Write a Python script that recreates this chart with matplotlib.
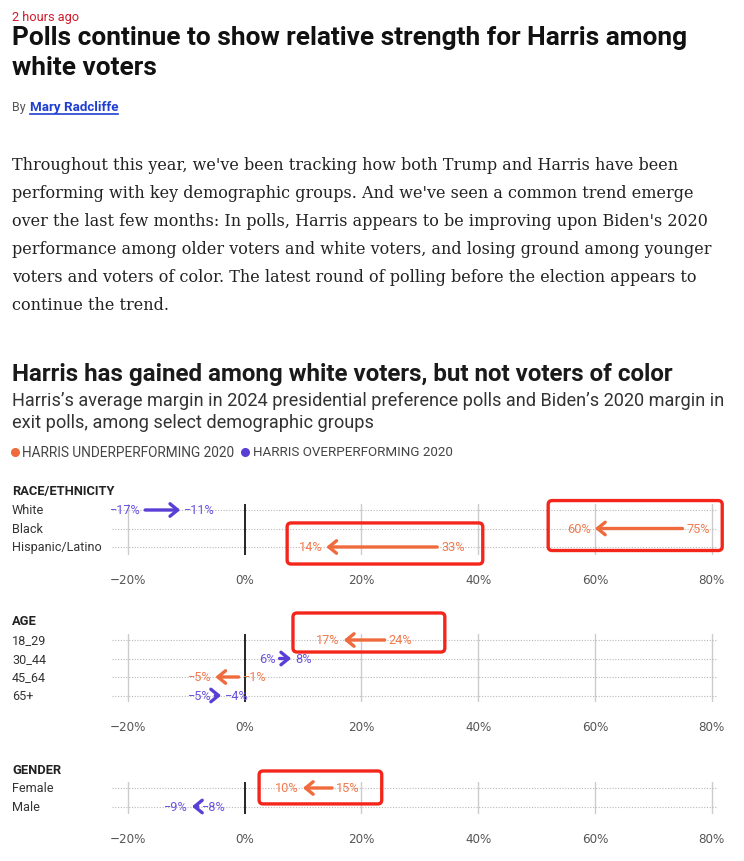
import matplotlib
matplotlib.use("Agg")
import matplotlib.pyplot as plt
from matplotlib import transforms
from matplotlib.lines import Line2D
from matplotlib.patches import FancyBboxPatch

# data (2020 exit-poll margin -> 2024 poll average)
race_groups = ["White", "Black", "Hispanic/Latino"]
race_2020 = [-17, 75, 33]
race_2024 = [-11, 60, 14]
race_over = [True, False, False]

age_groups = ["18_29", "30_44", "45_64", "65+"]
age_2020 = [24, 6, -1, -5]
age_2024 = [17, 8, -5, -4]
age_over = [False, True, False, True]

gender_groups = ["Female", "Male"]
gender_2020 = [15, -8]
gender_2024 = [10, -9]
gender_over = [False, True]

x_ticks = [-20, 0, 20, 40, 60, 80]
x_tick_labels = ["\u221220%", "0%", "20%", "40%", "60%", "80%"]

body_lines = [
    "Throughout this year, we've been tracking how both Trump and Harris have been",
    "performing with key demographic groups. And we've seen a common trend emerge",
    "over the last few months: In polls, Harris appears to be improving upon Biden's 2020",
    "performance among older voters and white voters, and losing ground among younger",
    "voters and voters of color. The latest round of polling before the election appears to",
    "continue the trend.",
]

ORANGE = "#ef6a3c"
ORANGE_TXT = "#f27a4e"
PURPLE = "#5a3fd6"
PURPLE_TXT = "#6a52e0"
RED_BOX = "#f4261c"

W, H = 744, 862
fig = plt.figure(figsize=(W / 100, H / 100), dpi=100)
renderer = fig.canvas.get_renderer()


def fx(x):
    return x / W


def fy(y):
    return 1 - y / H


def put(x, y, s, size, width=None, **kw):
    t = fig.text(fx(x), fy(y), s, fontsize=size, va="center", ha="left", **kw)
    if width:
        w = t.get_window_extent(renderer).width
        t.set_fontsize(size * width / w)
    return t


sans = ["Roboto", "DejaVu Sans"]

# --- article header ---
put(12, 18, "2 hours ago", 9, width=67, color="#d01a2a", family=sans)
t1 = put(12, 38, "Polls continue to show relative strength for Harris among", 20,
         width=674, color="#111111", family=sans, fontweight="bold")
put(12, 68, "white voters", t1.get_fontsize(), color="#111111", family=sans,
    fontweight="bold")
put(12, 108, "By", 9, color="#555555", family=sans)
put(30, 108, "Mary Radcliffe", 9, width=88, color="#1f3fd0", family=sans,
    fontweight="bold")
fig.add_artist(Line2D([fx(30), fx(118)], [fy(115), fy(115)], color="#1f3fd0",
                      lw=1.2, transform=fig.transFigure))

b0 = put(12, 166, body_lines[0], 13, width=666, color="#222222", family="DejaVu Serif")
for i, line in enumerate(body_lines[1:], start=1):
    put(12, 166 + 28 * i, line, b0.get_fontsize(), color="#222222",
        family="DejaVu Serif")

# --- chart header ---
put(12, 375, "Harris has gained among white voters, but not voters of color", 16,
    width=663, color="#1a1a1a", family=sans, fontweight="bold")
s0 = put(12, 401, "Harris\u2019s average margin in 2024 presidential preference polls "
         "and Biden\u2019s 2020 margin in", 12, width=710, color="#333333", family=sans)
put(12, 423, "exit polls, among select demographic groups", s0.get_fontsize(),
    color="#333333", family=sans)

fig.add_artist(Line2D([fx(15)], [fy(453)], marker="o", ms=5.5, color=ORANGE, lw=0,
                      transform=fig.transFigure))
put(22, 453, "HARRIS UNDERPERFORMING 2020", 8, width=211, color="#444444", family=sans)
fig.add_artist(Line2D([fx(245)], [fy(453)], marker="o", ms=5.5, color=PURPLE, lw=0,
                      transform=fig.transFigure))
put(253, 453, "HARRIS OVERPERFORMING 2020", 8, width=199, color="#444444", family=sans)

# --- panels ---
X_LEFT, X_RIGHT = 112, 718
ZERO_PX, PX_PER_PCT = 244.5, 5.84
ROW_PX = 18.5
x_lo = (X_LEFT - ZERO_PX) / PX_PER_PCT
x_hi = (X_RIGHT - ZERO_PX) / PX_PER_PCT


def pct(v):
    return f"{v}%".replace("-", "\u2212")


def panel(title, title_y, top, first_row, bottom, groups, v20, v24, over):
    n = len(groups)
    ax = fig.add_axes([fx(X_LEFT), fy(bottom), (X_RIGHT - X_LEFT) / W,
                       (bottom - top) / H])
    ax.set_xlim(x_lo, x_hi)
    last_row = first_row + ROW_PX * (n - 1)
    ax.set_ylim(n - 1 + (bottom - last_row) / ROW_PX, -(first_row - top) / ROW_PX)
    for s in ax.spines.values():
        s.set_visible(False)
    ax.set_yticks([])
    ax.set_xticks(x_ticks)
    ax.set_xticklabels(x_tick_labels, color="#555555", fontsize=9.5,
                       family="DejaVu Sans", fontstretch="condensed")
    ax.tick_params(axis="x", length=0, pad=13)
    for t in x_ticks:
        if t != 0:
            ax.axvline(t, color="#cccccc", lw=1, zorder=0)
    ax.axvline(0, color="black", lw=1.2, zorder=1)

    lab_tr = transforms.blended_transform_factory(fig.transFigure, ax.transData)
    fig.text(fx(12), fy(title_y), title, fontsize=9.3, fontweight="bold",
             color="#222222", va="center", family=sans)
    for i, g in enumerate(groups):
        ax.axhline(i, color="#b8b8b8", lw=0.8, ls=(0, (1, 1.5)), zorder=0)
        ax.text(fx(12), i, g, transform=lab_tr, fontsize=9.1, color="#333333",
                va="center", family=sans)
        col = PURPLE if over[i] else ORANGE
        tcol = PURPLE_TXT if over[i] else ORANGE_TXT
        a, b = v20[i], v24[i]
        ax.annotate("", xy=(b, i), xytext=(a, i),
                    arrowprops=dict(arrowstyle="->,head_length=0.55,head_width=0.45",
                                    lw=2.4, color=col, shrinkA=0, shrinkB=0,
                                    mutation_scale=10), zorder=3)
        right = b > a
        ax.annotate(pct(a), xy=(a, i), xytext=(-3 if right else 3, 0),
                    textcoords="offset points", ha="right" if right else "left",
                    va="center", color=tcol, fontsize=9.2, family=sans)
        ax.annotate(pct(b), xy=(b, i), xytext=(3 if right else -3, 0),
                    textcoords="offset points", ha="left" if right else "right",
                    va="center", color=tcol, fontsize=9.2, family=sans)
    return ax


ax_race = panel("RACE/ETHNICITY", 492, 505, 511, 556, race_groups, race_2020,
                race_2024, race_over)
ax_age = panel("AGE", 622, 635, 641, 703, age_groups, age_2020, age_2024, age_over)
ax_gender = panel("GENDER", 771, 783, 789, 815, gender_groups, gender_2020,
                  gender_2024, gender_over)

# red highlight boxes (x range in %, y range in row units)
highlights = [
    (ax_race, 52.0, 81.8, -0.51, 2.19),
    (ax_race, 7.3, 40.8, 0.70, 2.92),
    (ax_age, 8.3, 34.3, -1.46, 0.65),
    (ax_gender, 2.5, 23.5, -0.92, 0.86),
]
fig.canvas.draw()
for ax, x0, x1, y0, y1 in highlights:
    (px0, py0), (px1, py1) = ax.transData.transform([(x0, y1), (x1, y0)])
    box = FancyBboxPatch((px0, py0), px1 - px0, py1 - py0,
                         boxstyle="round,pad=0,rounding_size=4",
                         fill=False, ec=RED_BOX, lw=2.4,
                         transform=transforms.IdentityTransform(), zorder=5)
    fig.add_artist(box)

fig.savefig("out.png", dpi=100)
